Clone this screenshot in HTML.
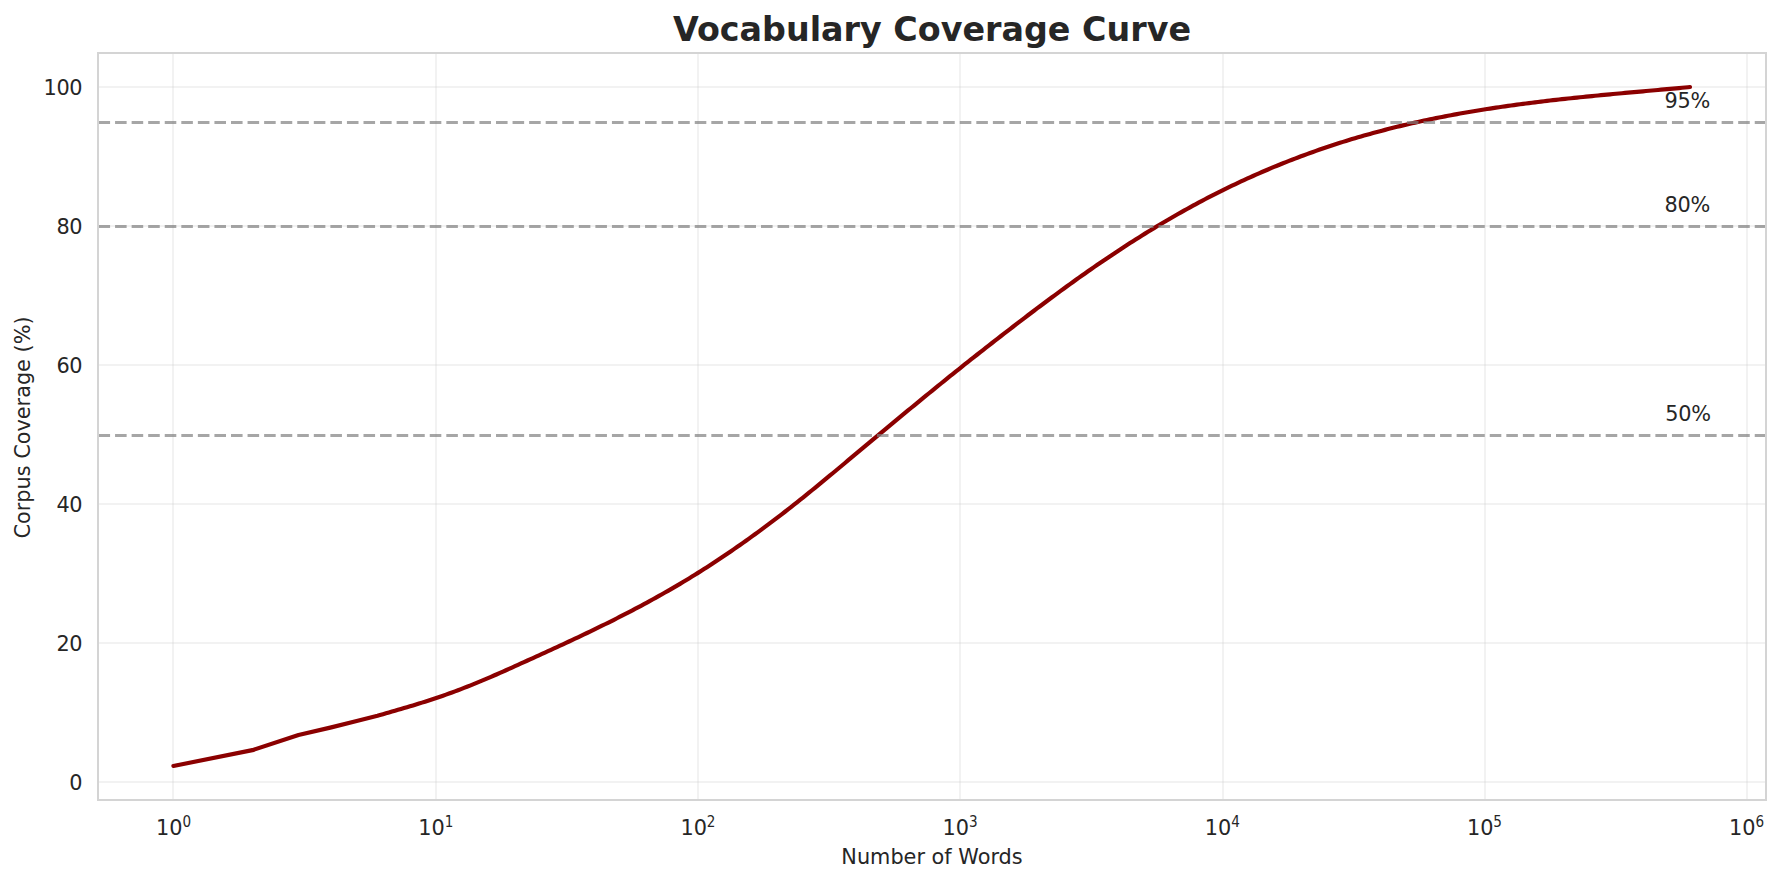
<!DOCTYPE html>
<html lang="en">
<head>
<meta charset="utf-8">
<title>Vocabulary Coverage Curve</title>
<style>
html,body{margin:0;padding:0;background:#fff;}
body{width:1780px;height:883px;overflow:hidden;}
svg{display:block;}
svg text{font-family:"DejaVu Sans","Liberation Sans",sans-serif;fill:#262626;}
.t{font-size:20.833px;}
.s{font-size:14.583px;}
.title{font-size:33.333px;font-weight:bold;}
</style>
</head>
<body>
<svg width="1780" height="883" viewBox="0 0 1780 883">
<rect x="0" y="0" width="1780" height="883" fill="#ffffff"/>
<g fill="#cccccc" fill-opacity="0.255" shape-rendering="crispEdges">
<rect x="172" y="53" width="2" height="747"/>
<rect x="435" y="53" width="2" height="747"/>
<rect x="697" y="53" width="2" height="747"/>
<rect x="959" y="53" width="2" height="747"/>
<rect x="1222" y="53" width="2" height="747"/>
<rect x="1484" y="53" width="2" height="747"/>
<rect x="1746" y="53" width="2" height="747"/>
<rect x="98" y="86" width="1668" height="2"/>
<rect x="98" y="225" width="1668" height="2"/>
<rect x="98" y="364" width="1668" height="2"/>
<rect x="98" y="503" width="1668" height="2"/>
<rect x="98" y="642" width="1668" height="2"/>
<rect x="98" y="781" width="1668" height="2"/>
</g>
<path d="M173.4,765.95 L252.4,750.15 L298.5,735.05 L331.3,727.35 L356.7,721.00 L377.5,715.75 L380.0,715.02 L383.0,714.17 L386.0,713.32 L389.0,712.46 L392.0,711.60 L395.0,710.73 L398.0,709.86 L401.0,708.99 L404.0,708.10 L407.0,707.21 L410.0,706.31 L413.0,705.41 L416.0,704.49 L419.0,703.56 L422.0,702.62 L425.0,701.67 L428.0,700.71 L431.0,699.73 L434.0,698.74 L437.0,697.73 L440.0,696.71 L443.0,695.67 L446.0,694.61 L449.0,693.54 L452.0,692.45 L455.0,691.35 L458.0,690.22 L461.0,689.09 L464.0,687.93 L467.0,686.76 L470.0,685.58 L473.0,684.37 L476.0,683.15 L479.0,681.92 L482.0,680.67 L485.0,679.40 L488.0,678.13 L491.0,676.84 L494.0,675.53 L497.0,674.22 L500.0,672.90 L503.0,671.57 L506.0,670.23 L509.0,668.89 L512.0,667.54 L515.0,666.19 L518.0,664.83 L521.0,663.47 L524.0,662.11 L527.0,660.76 L530.0,659.40 L533.0,658.03 L536.0,656.67 L539.0,655.31 L542.0,653.94 L545.0,652.57 L548.0,651.20 L551.0,649.83 L554.0,648.45 L557.0,647.07 L560.0,645.68 L563.0,644.29 L566.0,642.90 L569.0,641.50 L572.0,640.10 L575.0,638.69 L578.0,637.27 L581.0,635.85 L584.0,634.43 L587.0,633.00 L590.0,631.56 L593.0,630.11 L596.0,628.66 L599.0,627.20 L602.0,625.73 L605.0,624.25 L608.0,622.77 L611.0,621.27 L614.0,619.77 L617.0,618.26 L620.0,616.73 L623.0,615.20 L626.0,613.66 L629.0,612.11 L632.0,610.54 L635.0,608.97 L638.0,607.38 L641.0,605.79 L644.0,604.18 L647.0,602.56 L650.0,600.92 L653.0,599.28 L656.0,597.62 L659.0,595.94 L662.0,594.26 L665.0,592.56 L668.0,590.84 L671.0,589.11 L674.0,587.37 L677.0,585.61 L680.0,583.84 L683.0,582.05 L686.0,580.24 L689.0,578.42 L692.0,576.58 L695.0,574.73 L698.0,572.86 L701.0,570.97 L704.0,569.06 L707.0,567.14 L710.0,565.21 L713.0,563.25 L716.0,561.28 L719.0,559.30 L722.0,557.30 L725.0,555.28 L728.0,553.25 L731.0,551.20 L734.0,549.14 L737.0,547.06 L740.0,544.96 L743.0,542.85 L746.0,540.73 L749.0,538.59 L752.0,536.43 L755.0,534.26 L758.0,532.07 L761.0,529.87 L764.0,527.66 L767.0,525.42 L770.0,523.18 L773.0,520.92 L776.0,518.64 L779.0,516.35 L782.0,514.05 L785.0,511.73 L788.0,509.40 L791.0,507.05 L794.0,504.69 L797.0,502.31 L800.0,499.92 L803.0,497.52 L806.0,495.11 L809.0,492.69 L812.0,490.25 L815.0,487.81 L818.0,485.36 L821.0,482.90 L824.0,480.43 L827.0,477.95 L830.0,475.47 L833.0,472.98 L836.0,470.49 L839.0,467.99 L842.0,465.48 L845.0,462.98 L848.0,460.47 L851.0,457.95 L854.0,455.44 L857.0,452.92 L860.0,450.41 L863.0,447.89 L866.0,445.37 L869.0,442.86 L872.0,440.35 L875.0,437.84 L878.0,435.33 L881.0,432.82 L884.0,430.33 L887.0,427.83 L890.0,425.34 L893.0,422.85 L896.0,420.37 L899.0,417.89 L902.0,415.41 L905.0,412.93 L908.0,410.46 L911.0,408.00 L914.0,405.53 L917.0,403.07 L920.0,400.61 L923.0,398.16 L926.0,395.71 L929.0,393.26 L932.0,390.81 L935.0,388.37 L938.0,385.94 L941.0,383.50 L944.0,381.08 L947.0,378.65 L950.0,376.23 L953.0,373.82 L956.0,371.42 L959.0,369.02 L962.0,366.62 L965.0,364.23 L968.0,361.85 L971.0,359.47 L974.0,357.10 L977.0,354.74 L980.0,352.38 L983.0,350.03 L986.0,347.68 L989.0,345.33 L992.0,342.99 L995.0,340.66 L998.0,338.32 L1001.0,336.00 L1004.0,333.67 L1007.0,331.36 L1010.0,329.04 L1013.0,326.73 L1016.0,324.43 L1019.0,322.13 L1022.0,319.84 L1025.0,317.55 L1028.0,315.27 L1031.0,312.99 L1034.0,310.72 L1037.0,308.46 L1040.0,306.21 L1043.0,303.96 L1046.0,301.72 L1049.0,299.49 L1052.0,297.27 L1055.0,295.05 L1058.0,292.85 L1061.0,290.65 L1064.0,288.46 L1067.0,286.28 L1070.0,284.11 L1073.0,281.96 L1076.0,279.81 L1079.0,277.67 L1082.0,275.54 L1085.0,273.43 L1088.0,271.32 L1091.0,269.23 L1094.0,267.15 L1097.0,265.07 L1100.0,263.02 L1103.0,260.97 L1106.0,258.94 L1109.0,256.91 L1112.0,254.91 L1115.0,252.91 L1118.0,250.92 L1121.0,248.95 L1124.0,246.99 L1127.0,245.05 L1130.0,243.11 L1133.0,241.19 L1136.0,239.28 L1139.0,237.39 L1142.0,235.51 L1145.0,233.64 L1148.0,231.79 L1151.0,229.95 L1154.0,228.12 L1157.0,226.31 L1160.0,224.51 L1163.0,222.72 L1166.0,220.95 L1169.0,219.20 L1172.0,217.46 L1175.0,215.73 L1178.0,214.02 L1181.0,212.32 L1184.0,210.63 L1187.0,208.97 L1190.0,207.31 L1193.0,205.67 L1196.0,204.05 L1199.0,202.44 L1202.0,200.85 L1205.0,199.27 L1208.0,197.70 L1211.0,196.15 L1214.0,194.62 L1217.0,193.10 L1220.0,191.59 L1223.0,190.10 L1226.0,188.63 L1229.0,187.17 L1232.0,185.72 L1235.0,184.29 L1238.0,182.87 L1241.0,181.46 L1244.0,180.07 L1247.0,178.70 L1250.0,177.34 L1253.0,175.99 L1256.0,174.65 L1259.0,173.33 L1262.0,172.03 L1265.0,170.74 L1268.0,169.46 L1271.0,168.20 L1274.0,166.94 L1277.0,165.71 L1280.0,164.49 L1283.0,163.28 L1286.0,162.08 L1289.0,160.90 L1292.0,159.73 L1295.0,158.57 L1298.0,157.43 L1301.0,156.30 L1304.0,155.19 L1307.0,154.08 L1310.0,153.00 L1313.0,151.92 L1316.0,150.86 L1319.0,149.81 L1322.0,148.77 L1325.0,147.75 L1328.0,146.74 L1331.0,145.74 L1334.0,144.75 L1337.0,143.78 L1340.0,142.82 L1343.0,141.87 L1346.0,140.94 L1349.0,140.01 L1352.0,139.10 L1355.0,138.21 L1358.0,137.32 L1361.0,136.45 L1364.0,135.58 L1367.0,134.73 L1370.0,133.89 L1373.0,133.07 L1376.0,132.25 L1379.0,131.45 L1382.0,130.65 L1385.0,129.87 L1388.0,129.10 L1391.0,128.34 L1394.0,127.59 L1397.0,126.85 L1400.0,126.12 L1403.0,125.40 L1406.0,124.69 L1409.0,124.00 L1412.0,123.31 L1415.0,122.63 L1418.0,121.96 L1421.0,121.30 L1424.0,120.65 L1427.0,120.01 L1430.0,119.38 L1433.0,118.76 L1436.0,118.15 L1439.0,117.55 L1442.0,116.95 L1445.0,116.37 L1448.0,115.79 L1451.0,115.22 L1454.0,114.66 L1457.0,114.11 L1460.0,113.57 L1463.0,113.04 L1466.0,112.51 L1469.0,111.99 L1472.0,111.48 L1475.0,110.97 L1478.0,110.48 L1481.0,109.99 L1484.0,109.51 L1487.0,109.03 L1490.0,108.57 L1493.0,108.11 L1496.0,107.65 L1499.0,107.21 L1502.0,106.77 L1505.0,106.33 L1508.0,105.91 L1511.0,105.49 L1514.0,105.07 L1517.0,104.66 L1520.0,104.26 L1523.0,103.86 L1526.0,103.47 L1529.0,103.09 L1532.0,102.71 L1535.0,102.33 L1538.0,101.96 L1541.0,101.60 L1544.0,101.24 L1547.0,100.88 L1550.0,100.53 L1553.0,100.19 L1556.0,99.85 L1559.0,99.51 L1562.0,99.18 L1565.0,98.85 L1568.0,98.53 L1571.0,98.21 L1574.0,97.89 L1577.0,97.58 L1580.0,97.27 L1583.0,96.96 L1586.0,96.66 L1589.0,96.36 L1592.0,96.06 L1595.0,95.77 L1598.0,95.48 L1601.0,95.19 L1604.0,94.90 L1607.0,94.61 L1610.0,94.33 L1613.0,94.05 L1616.0,93.77 L1619.0,93.49 L1622.0,93.21 L1625.0,92.94 L1628.0,92.66 L1631.0,92.39 L1634.0,92.12 L1637.0,91.85 L1640.0,91.58 L1643.0,91.31 L1646.0,91.04 L1649.0,90.77 L1652.0,90.50 L1655.0,90.23 L1658.0,89.96 L1661.0,89.69 L1664.0,89.41 L1667.0,89.14 L1670.0,88.87 L1673.0,88.60 L1676.0,88.32 L1679.0,88.05 L1682.0,87.77 L1685.0,87.49 L1688.0,87.21 L1690.0,87.02" fill="none" stroke="#8b0000" stroke-width="4.167" stroke-linejoin="round" stroke-linecap="round"/>
<g stroke="#808080" stroke-opacity="0.7" stroke-width="3.125" stroke-dasharray="11.5625 5" fill="none">
<line x1="98.5" y1="122.5" x2="1766" y2="122.5"/>
<line x1="98.5" y1="226.5" x2="1766" y2="226.5"/>
<line x1="98.5" y1="435.5" x2="1766" y2="435.5"/>
</g>
<rect x="98" y="53" width="1668" height="747" fill="none" stroke="#d4d4d4" stroke-width="2" shape-rendering="crispEdges"/>
<text class="t" x="82.3" y="94.9" text-anchor="end" letter-spacing="-0.3">100</text>
<text class="t" x="82.3" y="233.9" text-anchor="end" letter-spacing="-0.3">80</text>
<text class="t" x="82.3" y="372.9" text-anchor="end" letter-spacing="-0.3">60</text>
<text class="t" x="82.3" y="511.9" text-anchor="end" letter-spacing="-0.3">40</text>
<text class="t" x="82.3" y="650.9" text-anchor="end" letter-spacing="-0.3">20</text>
<text class="t" x="82.3" y="789.9" text-anchor="end" letter-spacing="-0.3">0</text>
<text class="t" x="156.1" y="834.9">10</text>
<text class="s" transform="translate(182.5,826.8) scale(0.93,1.12)">0</text>
<text class="t" x="418.3" y="834.9">10</text>
<text class="s" transform="translate(444.7,826.8) scale(0.93,1.12)">1</text>
<text class="t" x="680.4" y="834.9">10</text>
<text class="s" transform="translate(706.8,826.8) scale(0.93,1.12)">2</text>
<text class="t" x="942.6" y="834.9">10</text>
<text class="s" transform="translate(969.0,826.8) scale(0.93,1.12)">3</text>
<text class="t" x="1204.8" y="834.9">10</text>
<text class="s" transform="translate(1231.2,826.8) scale(0.93,1.12)">4</text>
<text class="t" x="1466.9" y="834.9">10</text>
<text class="s" transform="translate(1493.3,826.8) scale(0.93,1.12)">5</text>
<text class="t" x="1729.1" y="834.9">10</text>
<text class="s" transform="translate(1755.5,826.8) scale(0.93,1.12)">6</text>
<text class="t" x="1664.6" y="107.6" letter-spacing="-0.3">95%</text>
<text class="t" x="1664.6" y="211.8" letter-spacing="-0.3">80%</text>
<text class="t" x="1665.3" y="420.9" letter-spacing="-0.3">50%</text>
<text class="t" x="932" y="863.9" text-anchor="middle">Number of Words</text>
<text class="t" transform="translate(30.2,427.5) rotate(-90)" text-anchor="middle">Corpus Coverage (%)</text>
<text class="title" x="932" y="40.6" text-anchor="middle">Vocabulary Coverage Curve</text>
</svg>
</body>
</html>
